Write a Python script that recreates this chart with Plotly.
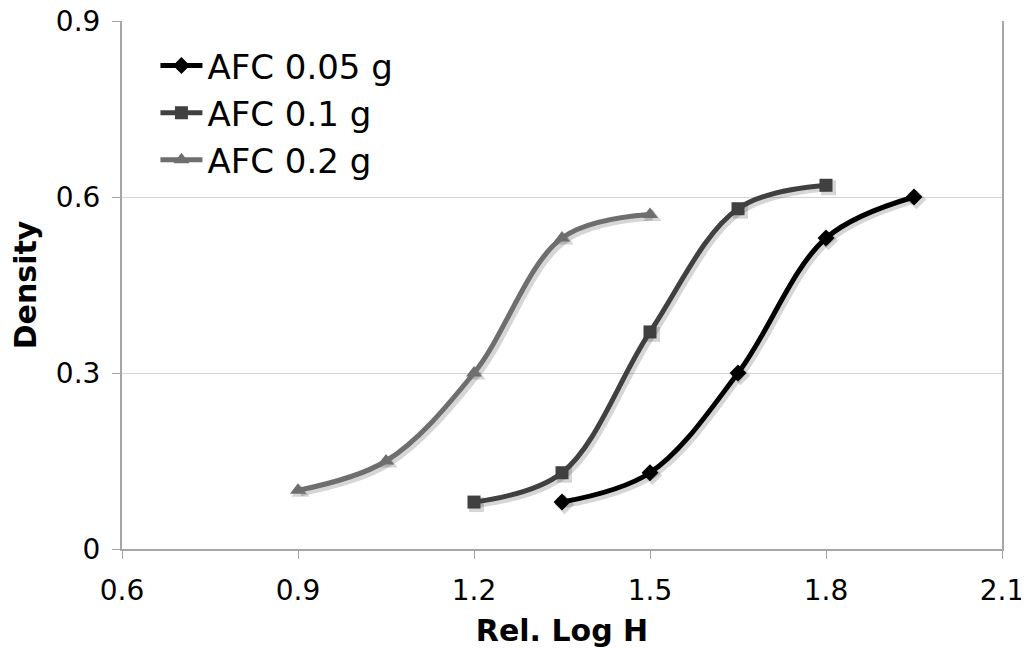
import plotly.graph_objects as go

x_005 = [1.35, 1.50, 1.65, 1.80, 1.95]
y_005 = [0.08, 0.13, 0.30, 0.53, 0.60]
x_01 = [1.20, 1.35, 1.50, 1.65, 1.80]
y_01 = [0.08, 0.13, 0.37, 0.58, 0.62]
x_02 = [0.90, 1.05, 1.20, 1.35, 1.50]
y_02 = [0.10, 0.15, 0.30, 0.53, 0.57]

names = ["AFC 0.05 g", "AFC 0.1 g", "AFC 0.2 g"]
x_ticks = [0.6, 0.9, 1.2, 1.5, 1.8, 2.1]
y_ticks = [0, 0.3, 0.6, 0.9]
x_range = [0.6, 2.1]
y_range = [0, 0.9]

series = [
    (x_005, y_005, names[0], "#000000", "diamond", 13),
    (x_01, y_01, names[1], "#404040", "square", 13),
    (x_02, y_02, names[2], "#6e6e6e", "triangle-up", 14),
]

# page body has an 8px margin; the figure is sized/placed to compensate
W, H = 1021, 640
ML, MR, MT, MB = 114, 27, 13, 99
pw, ph = W - ML - MR, H - MT - MB
# shadow offset (pixels) converted to axis units
sx = 2.5 * (x_range[1] - x_range[0]) / pw
sy = 2.5 * (y_range[1] - y_range[0]) / ph

fig = go.Figure()
# base subplot carries the visible axes and grid (transparent copy of data)
fig.add_trace(go.Scatter(x=x_005, y=y_005, mode="lines", showlegend=False,
                         hoverinfo="skip", opacity=0, line=dict(width=0)))
for xs, ys, nm, col, sym, sz in series:
    fig.add_trace(go.Scatter(
        x=xs, y=ys, name=nm, mode="lines+markers", showlegend=False,
        hoverinfo="skip", xaxis="x2", yaxis="y2",
        line=dict(color="rgba(0,0,0,0.16)", width=7, shape="spline", smoothing=1.0),
        marker=dict(color="rgba(0,0,0,0.16)", symbol=sym, size=sz + 2),
    ))
for xs, ys, nm, col, sym, sz in series:
    fig.add_trace(go.Scatter(
        x=xs, y=ys, name=nm, mode="lines+markers",
        xaxis="x3", yaxis="y3",
        line=dict(color=col, width=5, shape="spline", smoothing=1.0),
        marker=dict(color=col, symbol=sym, size=sz),
    ))

font = "DejaVu Sans, Verdana, sans-serif"
hidden = dict(visible=False, showgrid=False, zeroline=False, automargin=False)
fig.update_layout(
    width=W, height=H,
    margin=dict(l=ML, r=MR, t=MT, b=MB),
    paper_bgcolor="white", plot_bgcolor="white",
    font=dict(family=font, color="#000000", size=28),
    showlegend=True,
    legend=dict(x=0.038, y=0.97, xanchor="left", yanchor="top",
                font=dict(size=34, family=font), bgcolor="rgba(0,0,0,0)",
                tracegroupgap=0, itemwidth=42),
    xaxis=dict(range=[x_range[0], x_range[1] + 1e-6], tickvals=x_ticks,
               ticktext=[f"{v:g}" for v in x_ticks],
               showgrid=False, zeroline=False, automargin=False,
               ticklabeloverflow="allow",
               showline=True, linecolor="#a6a6a6", linewidth=2,
               ticks="outside", ticklen=8, tickcolor="#a6a6a6", tickwidth=1,
               ticklabelstandoff=7,
               tickfont=dict(size=28),
               title=dict(text="<b>Rel. Log H</b>", font=dict(size=30), standoff=24)),
    yaxis=dict(range=[y_range[0], y_range[1] + 1e-6], tickvals=y_ticks,
               ticktext=[f"{v:g}" for v in y_ticks],
               showgrid=True, gridcolor="#d4d4d4", gridwidth=1,
               zeroline=False, automargin=False,
               ticklabeloverflow="allow",
               showline=True, mirror=True, linecolor="#a6a6a6", linewidth=2,
               ticks="outside", ticklen=8, tickcolor="#a6a6a6", tickwidth=1,
               ticklabelstandoff=6,
               tickfont=dict(size=28),
               title=dict(text="<b>Density</b>", font=dict(size=30), standoff=10)),
    xaxis2=dict(overlaying="x", range=[x_range[0] - sx, x_range[1] - sx], **hidden),
    yaxis2=dict(overlaying="y", range=[y_range[0] + sy, y_range[1] + sy], **hidden),
    xaxis3=dict(overlaying="x", range=x_range, **hidden),
    yaxis3=dict(overlaying="y", range=y_range, **hidden),
)

fig.write_html("out.html")
